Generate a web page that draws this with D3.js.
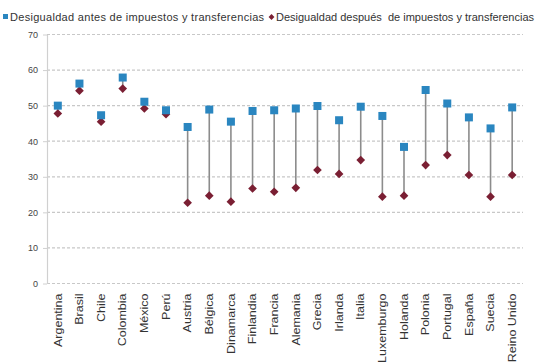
<!DOCTYPE html>
<html>
<head>
<meta charset="utf-8">
<script src="https://cdn.jsdelivr.net/npm/d3@7"></script>
<style>
  html, body { margin: 0; padding: 0; background: #fff; }
  svg { display: block; }
  text { font-family: "Liberation Sans", Arial, sans-serif; fill: #333; }
</style>
</head>
<body>
<svg id="chart" width="539" height="364"></svg>
<script>
// Gini coefficients before and after taxes and transfers
const countries = ["Argentina", "Brasil", "Chile", "Colombia", "México", "Perú", "Austria", "Bélgica",
  "Dinamarca", "Finlandia", "Francia", "Alemania", "Grecia", "Irlanda", "Italia", "Luxemburgo",
  "Holanda", "Polonia", "Portugal", "España", "Suecia", "Reino Unido"];
const antes = [50.0, 56.2, 47.3, 57.9, 51.1, 48.7, 44.0, 48.9, 45.5, 48.5, 48.7, 49.2, 49.9, 45.9,
  49.7, 47.1, 38.4, 54.4, 50.6, 46.7, 43.6, 49.5];
const despues = [47.8, 54.2, 45.5, 54.8, 49.2, 47.6, 22.7, 24.7, 23.0, 26.7, 25.8, 26.9, 31.9, 30.8,
  34.7, 24.4, 24.7, 33.3, 36.1, 30.5, 24.4, 30.5];
const yTicks = [0, 10, 20, 30, 40, 50, 60, 70];
const legendLabels = ["Desigualdad antes de impuestos y transferencias",
  "Desigualdad después  de impuestos y transferencias"];

const colBefore = "#2a86c0";
const colAfter = "#7a1f33";

const svg = d3.select("#chart");
const margin = { left: 47, right: 16, top: 34.5, bottom: 80.5 };
const W = 539, H = 364;

const x = d3.scaleBand().domain(countries).range([margin.left, W - margin.right]).padding(0);
const y = d3.scaleLinear().domain([0, 70]).range([H - margin.bottom, margin.top]);

// horizontal grid lines
svg.append("g").selectAll("line").data(yTicks).join("line")
  .attr("x1", margin.left).attr("x2", W - margin.right)
  .attr("y1", d => y(d)).attr("y2", d => y(d))
  .attr("stroke", "#c8c8c8").attr("stroke-width", 1.2)
  .attr("stroke-dasharray", "3,2");

// y axis
const yAxis = d3.axisLeft(y).tickValues(yTicks).tickSize(0).tickPadding(9);
const gy = svg.append("g").attr("transform", `translate(${margin.left},0)`).call(yAxis);
gy.select(".domain").attr("stroke", "#d0d0d0").attr("stroke-width", 1.2);
gy.selectAll("text").attr("font-size", 9).style("fill", "#444");
gy.selectAll(".tick").append("line").attr("x1", -4).attr("x2", 0).attr("stroke", "#d0d0d0");

// x labels (rotated, slightly condensed)
const xAxis = d3.axisBottom(x).tickSize(0);
const gx = svg.append("g").attr("transform", `translate(0,${H - margin.bottom})`).call(xAxis);
gx.select(".domain").remove();
gx.selectAll("text")
  .attr("font-size", 12.5)
  .attr("text-anchor", "end")
  .attr("dy", "0.35em")
  .attr("transform", "translate(0,10) rotate(-90) scale(1,0.85)")
  .attr("x", 0).attr("y", 0)
  .style("fill", "#333");

// stems
const cx = d => x(d) + x.bandwidth() / 2;
svg.append("g").selectAll("line").data(countries).join("line")
  .attr("x1", cx).attr("x2", cx)
  .attr("y1", (d, i) => y(antes[i])).attr("y2", (d, i) => y(despues[i]))
  .attr("stroke", "#8c8c8c").attr("stroke-width", 1.6);

// after markers (diamonds)
const diamond = d3.symbol().type(d3.symbolDiamond2).size(48);
svg.append("g").selectAll("path").data(countries).join("path")
  .attr("d", diamond)
  .attr("transform", (d, i) => `translate(${cx(d)},${y(despues[i])})`)
  .attr("fill", colAfter);

// before markers (squares)
const sq = 8;
svg.append("g").selectAll("rect").data(countries).join("rect")
  .attr("x", d => cx(d) - sq / 2)
  .attr("y", (d, i) => y(antes[i]) - sq / 2)
  .attr("width", sq).attr("height", sq)
  .attr("fill", colBefore);

// legend
const lg = svg.append("g");
lg.append("rect").attr("x", 3).attr("y", 14).attr("width", 5).attr("height", 5).attr("fill", colBefore);
lg.append("text").attr("x", 10).attr("y", 21).attr("font-size", 11)
  .attr("letter-spacing", 0.3)
  .text(legendLabels[0]);
lg.append("path").attr("d", d3.symbol().type(d3.symbolDiamond2).size(22)())
  .attr("transform", "translate(271.5,17)").attr("fill", colAfter);
lg.append("text").attr("x", 276).attr("y", 21).attr("font-size", 11)
  .attr("xml:space", "preserve")
  .text(legendLabels[1]);
</script>
</body>
</html>
